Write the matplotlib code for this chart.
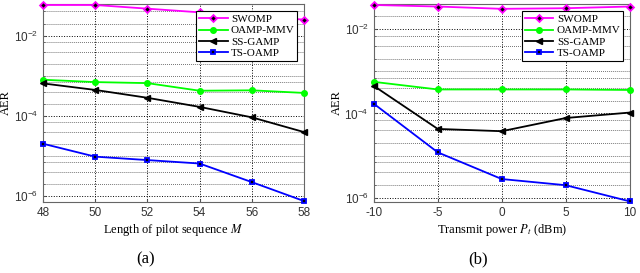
#!/usr/bin/env python3

from matplotlib import pyplot as plt
from matplotlib import ticker


# (a) AER versus pilot length M
pilot_len = [48, 50, 52, 54, 56, 58]
swomp_a = [0.058, 0.058, 0.047, 0.038, 0.031, 0.025]
oamp_mmv_a = [7.9e-4, 6.9e-4, 6.5e-4, 4.2e-4, 4.3e-4, 3.7e-4]
ss_gamp_a = [6.4e-4, 4.4e-4, 2.8e-4, 1.66e-4, 9.1e-5, 3.9e-5]
ts_oamp_a = [2.0e-5, 9.5e-6, 7.8e-6, 6.4e-6, 2.2e-6, 7.4e-7]

# (b) AER versus transmit power
power_dbm = [-10, -5, 0, 5, 10]
swomp_b = [0.037, 0.034, 0.030, 0.031, 0.034]
oamp_mmv_b = [5.6e-4, 3.7e-4, 3.7e-4, 3.7e-4, 3.6e-4]
ss_gamp_b = [4.5e-4, 4.3e-5, 3.8e-5, 7.8e-5, 1.05e-4]
ts_oamp_b = [1.7e-4, 1.2e-5, 2.8e-6, 2.0e-6, 8.3e-7]

labels = ["SWOMP", "OAMP-MMV", "SS-GAMP", "TS-OAMP"]

SERIF = "Liberation Serif"
SANS = "Liberation Sans"

plt.rcParams["mathtext.fontset"] = "stix"
plt.rcParams["axes.unicode_minus"] = False


def draw_series(ax, x, ys):
    styles = [
        dict(color="#ff00ff", marker="D", markersize=3.5, markerfacecolor="k",
             markeredgecolor="#ff00ff", markeredgewidth=1.3),
        dict(color="#00ff00", marker="o", markersize=4, markerfacecolor="#00ff00",
             markeredgecolor="#00ff00"),
        dict(color="k", marker="<", markersize=5, markerfacecolor="k",
             markeredgecolor="k"),
        dict(color="#0000ff", marker="s", markersize=3.5, markerfacecolor="k",
             markeredgecolor="#0000ff", markeredgewidth=1.3),
    ]
    for y, lab, st in zip(ys, labels, styles):
        ax.plot(x, y, linewidth=1.3, label=lab, clip_on=False, zorder=3, **st)


def style_axes(ax, xticks, ylim, xlabel):
    ax.set_yscale("log")
    ax.set_xlim(xticks[0], xticks[-1])
    ax.set_ylim(*ylim)
    ax.set_xticks(xticks)
    ax.set_yticks([1e-6, 1e-4, 1e-2])
    ax.yaxis.set_minor_locator(ticker.LogLocator(base=10, subs=(1.0, 2.0, 4.0, 7.0), numticks=20))
    ax.yaxis.set_minor_formatter(ticker.NullFormatter())
    ax.grid(True, which="major", linestyle=":", color="k", linewidth=0.7)
    ax.grid(True, which="minor", axis="y", linestyle=":", color="#222222", linewidth=0.55)
    ax.tick_params(which="both", direction="in", labelsize=8.5, labelcolor="#333333",
                   color="#555555", length=2.5)
    ax.tick_params(which="minor", length=1.5)
    for lab in ax.get_xticklabels() + ax.get_yticklabels():
        lab.set_fontfamily(SANS)
    for sp in ax.spines.values():
        sp.set_color("#666666")
        sp.set_linewidth(0.8)
    ax.set_ylabel("AER", fontfamily=SERIF, fontsize=9, labelpad=1)
    ax.set_xlabel(xlabel, fontfamily=SERIF, fontsize=9, labelpad=2)
    leg = ax.legend(loc="upper right", bbox_to_anchor=(0.975, 0.96),
                    prop={"family": SERIF, "size": 8}, fancybox=False,
                    framealpha=1, edgecolor="k", handlelength=2.6,
                    labelspacing=0.15, borderpad=0.25, handletextpad=0.3,
                    borderaxespad=0)
    leg.get_frame().set_linewidth(0.8)


def main():
    fig = plt.figure(figsize=(6.4, 2.73), dpi=100)
    ax_a = fig.add_axes([0.067, 0.26, 0.408, 0.727])
    ax_b = fig.add_axes([0.584, 0.26, 0.40, 0.727])

    draw_series(ax_a, pilot_len, [swomp_a, oamp_mmv_a, ss_gamp_a, ts_oamp_a])
    style_axes(ax_a, pilot_len, (7e-7, 6.3e-2), "Length of pilot sequence $M$")

    draw_series(ax_b, power_dbm, [swomp_b, oamp_mmv_b, ss_gamp_b, ts_oamp_b])
    style_axes(ax_b, power_dbm, (8e-7, 4e-2), "Transmit power $P_t$ (dBm)")

    fig.text(0.228, 0.035, "(a)", ha="center", fontfamily=SERIF, fontsize=12)
    fig.text(0.747, 0.035, "(b)", ha="center", fontfamily=SERIF, fontsize=12)

    fig.savefig("out.png", dpi=100)


if __name__ == "__main__":
    main()
